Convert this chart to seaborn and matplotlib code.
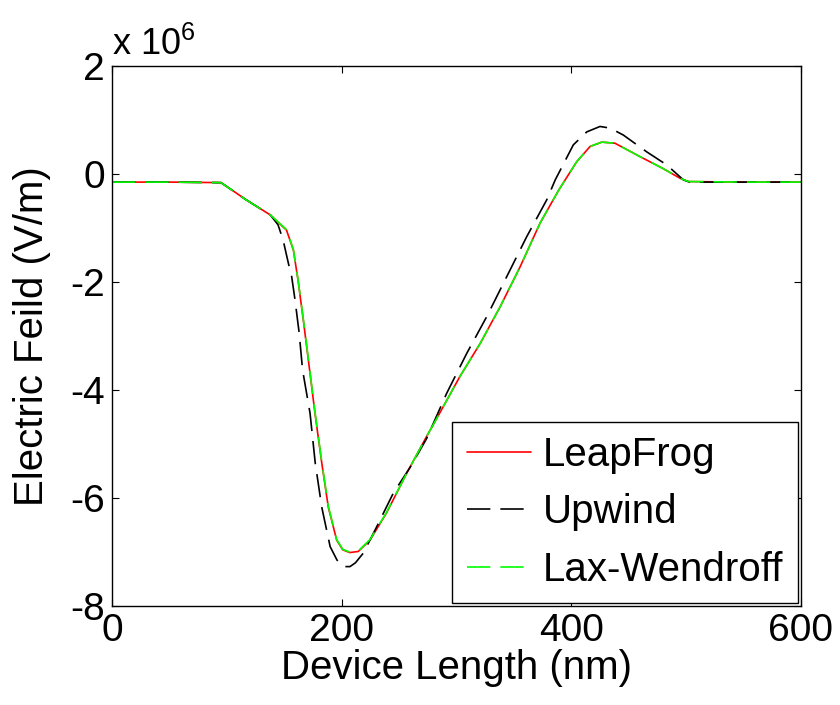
import numpy as np
import pandas as pd
import matplotlib
matplotlib.use('Agg')
import matplotlib.pyplot as plt
import seaborn as sns

# values, field in units of 1e6 V/m
leap_x = [0, 50, 95, 117, 138, 152, 158, 162, 166.6, 171, 176.8, 182.7, 188.4,
          195.7, 201, 207, 214.5, 224.7, 239, 256.7, 274, 283, 303, 320.6, 338,
          355.4, 372.8, 389, 404.8, 416.4, 426.6, 438, 460, 480, 494.8, 502, 550, 600]
leap_y = [-0.15, -0.15, -0.16, -0.48, -0.76, -1.04, -1.41, -1.96, -2.70, -3.44,
          -4.43, -5.35, -6.17, -6.78, -6.96, -7.01, -6.99, -6.78, -6.28, -5.54,
          -4.86, -4.52, -3.75, -3.14, -2.46, -1.72, -0.91, -0.30, 0.23, 0.51,
          0.59, 0.57, 0.32, 0.10, -0.08, -0.14, -0.15, -0.15]

upwind_x = [0, 50, 95, 117, 138, 144.6, 149, 153.6, 156.5, 159.4, 163, 166, 169,
            172.5, 177, 182.7, 190, 196, 201.5, 207.3, 212, 218.9, 230.6, 245,
            260, 274, 291.5, 309, 326.4, 343.8, 361.2, 378.6, 386, 401.8, 413.5,
            425, 433.8, 445.4, 465.7, 483, 497.7, 503, 550, 600]
upwind_y = [-0.15, -0.15, -0.16, -0.48, -0.76, -0.94, -1.22, -1.65, -1.90, -2.33,
            -2.94, -3.63, -4.00, -4.43, -5.35, -6.17, -6.90, -7.15, -7.27, -7.27,
            -7.20, -7.02, -6.53, -5.91, -5.42, -4.90, -4.06, -3.32, -2.64, -1.90,
            -1.16, -0.48, -0.11, 0.54, 0.78, 0.88, 0.85, 0.72, 0.41, 0.17, -0.11,
            -0.15, -0.15, -0.15]

lax_x = [0, 50, 95, 117, 138, 152, 158, 162, 166.6, 171, 176.8, 182.7, 188.4,
         195.7, 201, 207, 214.5, 224.7, 239, 256.7, 274, 283, 303, 320.6, 338,
         355.4, 372.8, 389, 404.8, 416.4, 426.6, 438, 460, 480, 494.8, 502, 550, 600]
lax_y = [-0.15, -0.15, -0.16, -0.48, -0.76, -1.03, -1.40, -1.95, -2.68, -3.42,
         -4.41, -5.33, -6.15, -6.77, -6.95, -7.00, -6.98, -6.77, -6.27, -5.54,
         -4.86, -4.52, -3.75, -3.14, -2.46, -1.72, -0.91, -0.30, 0.23, 0.51,
         0.59, 0.57, 0.32, 0.10, -0.08, -0.14, -0.15, -0.15]

xticks = [0, 200, 400, 600]
yticks = [-8, -6, -4, -2, 0, 2]

sns.set_theme(style='ticks')
plt.rcParams['font.family'] = ['Liberation Sans', 'DejaVu Sans']
plt.rcParams['mathtext.default'] = 'regular'
plt.rcParams['text.color'] = 'black'
plt.rcParams['axes.labelcolor'] = 'black'

fig = plt.figure(figsize=(8.4, 7.05), dpi=100)
ax = fig.add_axes([0.1333, 0.1404, 0.8202, 0.766])

lw = 1.2
sns.lineplot(x=leap_x, y=leap_y, ax=ax, color='#ff0000', lw=lw, sort=False,
             estimator=None, label='LeapFrog')
sns.lineplot(x=upwind_x, y=upwind_y, ax=ax, color='black', lw=lw, sort=False,
             estimator=None, label='Upwind')
sns.lineplot(x=lax_x, y=lax_y, ax=ax, color='#00ff00', lw=lw, sort=False,
             estimator=None, label='Lax-Wendroff')
ax.lines[1].set_dashes((14, 6))
ax.lines[2].set_dashes((14, 6))

ax.set_xlim(0, 600)
ax.set_ylim(-8, 2)
ax.set_xticks(xticks)
ax.set_yticks(yticks)
ax.set_yticklabels([str(v) for v in yticks])
ax.tick_params(direction='in', length=5, width=0.8, top=True, right=True,
               labelsize=28, pad=5, colors='black')
for s in ax.spines.values():
    s.set_color('black')
    s.set_linewidth(1.0)

ax.set_xlabel('Device Length (nm)', fontsize=29, labelpad=0)
ax.set_ylabel('Electric Feild (V/m)', fontsize=29, labelpad=14)
ax.text(0, 1.02, 'x 10$^{6}$', transform=ax.transAxes, fontsize=26,
        ha='left', va='baseline')

leg = ax.legend(loc='lower right', fontsize=29, frameon=True, fancybox=False,
                edgecolor='black', framealpha=1, borderaxespad=0.08,
                handlelength=1.6, handletextpad=0.3, borderpad=0.35,
                labelspacing=0.48)
leg.get_frame().set_linewidth(1.0)
for t in leg.get_texts():
    t.set_color('black')

fig.savefig('out.png', dpi=100, facecolor='white')
